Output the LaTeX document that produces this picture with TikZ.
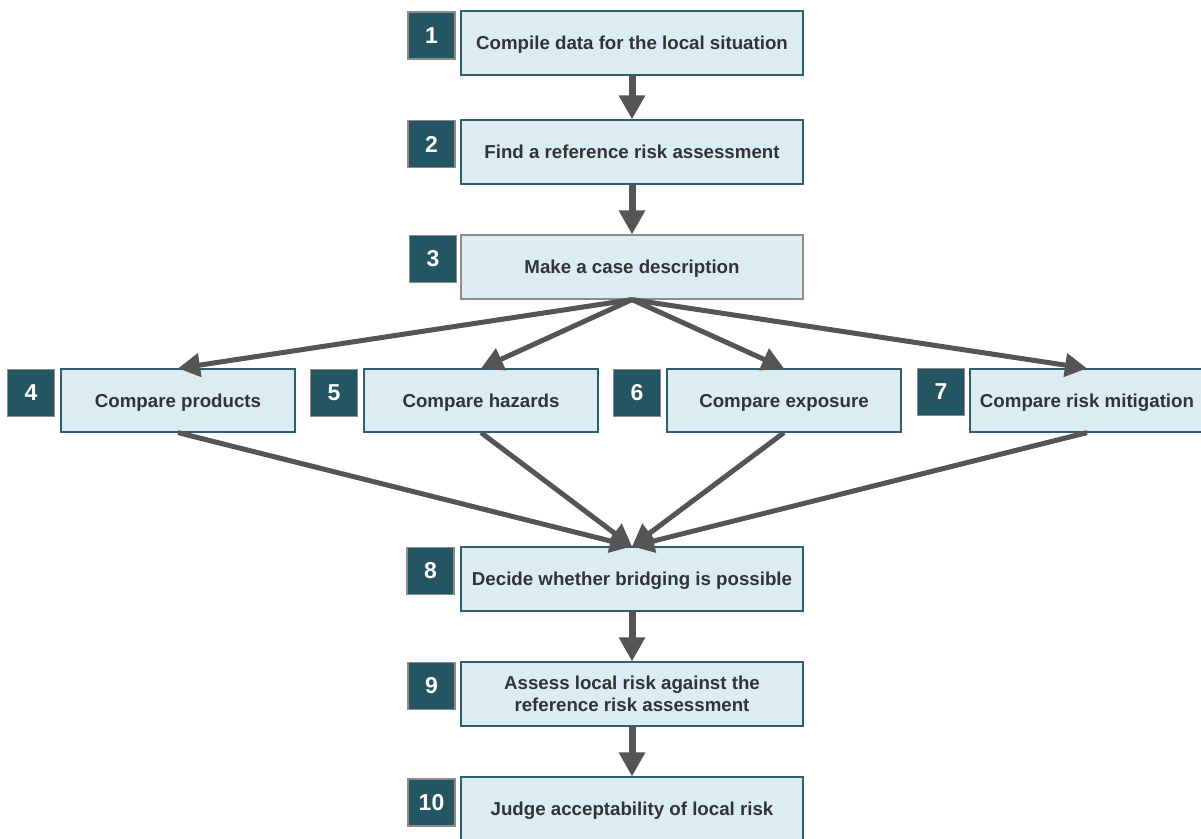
\documentclass[tikz,border=0pt]{standalone}
\usepackage{fontspec}
\setmainfont{Liberation Sans}
\usetikzlibrary{arrows.meta}
\definecolor{boxfill}{HTML}{DBEDF3}
\definecolor{boxline}{HTML}{2F5F6B}
\definecolor{numfill}{HTML}{235563}
\definecolor{numline}{HTML}{8C8C8C}
\definecolor{arrowcol}{HTML}{555555}
\definecolor{txt}{HTML}{333333}
\begin{document}
\begin{tikzpicture}[x=1pt,y=-1pt,
  stepbox/.style={draw=boxline, fill=boxfill, line width=1.2pt, minimum width=342pt, minimum height=64pt, inner sep=0pt, align=center, text=txt, font=\fontsize{18.7}{22.5}\selectfont\bfseries},
  onebox/.style={stepbox, text depth=0pt},
  smallbox/.style={onebox, minimum width=234pt, minimum height=63pt},
  numbox/.style={draw=numline, fill=numfill, line width=1.2pt, minimum width=47pt, minimum height=47pt, inner sep=0pt, text=white, font=\fontsize{23}{26}\selectfont\bfseries},
  varr/.style={draw=arrowcol, line width=7pt, -{Triangle[length=24pt,width=25pt]}},
  farr/.style={draw=arrowcol, line width=5pt, -{Triangle[length=22pt,width=23pt]}}
]
\useasboundingbox (0,0) rectangle (1201,838);
\node[onebox] (b1) at (632,43) {Compile data for the local situation};
\node[numbox] (n1) at (431.5,35.5) {1};
\node[onebox] (b2) at (632,152) {Find a reference risk assessment};
\node[numbox] (n2) at (431.5,144) {2};
\node[onebox, draw=numline] (b3) at (632,267) {Make a case description};
\node[numbox] (n3) at (433,259) {3};
\node[smallbox] (b4) at (178,400.5) {Compare products};
\node[numbox] (n4) at (31,393) {4};
\node[smallbox] (b5) at (481,400.5) {Compare hazards};
\node[numbox] (n5) at (334,393) {5};
\node[smallbox] (b6) at (784,400.5) {Compare exposure};
\node[numbox] (n6) at (637,393) {6};
\node[smallbox] (b7) at (1087,400.5) {Compare risk mitigation};
\node[numbox] (n7) at (941,392) {7};
\node[onebox] (b8) at (632,579) {Decide whether bridging is possible};
\node[numbox] (n8) at (430.5,571) {8};
\node[stepbox] (b9) at (632,694) {Assess local risk against the\\reference risk assessment};
\node[numbox] (n9) at (431.5,686) {9};
\node[onebox] (b10) at (632,809) {Judge acceptability of local risk};
\node[numbox] (n10) at (431.5,802.5) {10};
\draw[varr] (b1.south) -- (b2.north);
\draw[varr] (b2.south) -- (b3.north);
\draw[farr] (b3.south) -- (b4.north);
\draw[farr] (b3.south) -- (b5.north);
\draw[farr] (b3.south) -- (b6.north);
\draw[farr] (b3.south) -- (b7.north);
\draw[farr] (b4.south) -- (b8.north);
\draw[farr] (b5.south) -- (b8.north);
\draw[farr] (b6.south) -- (b8.north);
\draw[farr] (b7.south) -- (b8.north);
\draw[varr] (b8.south) -- (b9.north);
\draw[varr] (b9.south) -- (b10.north);
\end{tikzpicture}
\end{document}
